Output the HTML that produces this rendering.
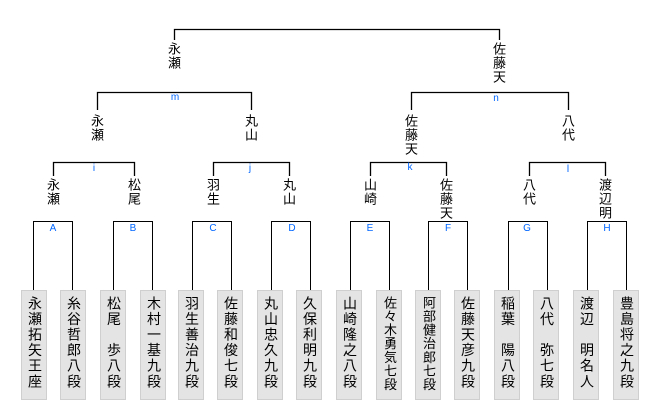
<!DOCTYPE html>
<html><head><meta charset="utf-8"><style>
body{margin:0;width:660px;height:400px;background:#fff;position:relative;overflow:hidden;font-family:"Liberation Sans","Noto Sans CJK JP",sans-serif}
.n{position:absolute;writing-mode:vertical-rl;text-orientation:upright;font-size:13px;letter-spacing:1px;line-height:14px;width:14px;color:#000;font-family:"Noto Sans CJK JP",sans-serif}
.l{position:absolute;font-size:10px;color:#0066ff;width:20px;text-align:center}
.b{position:absolute;top:290px;width:26px;height:110px;background:#e4e4e4;border:1px solid #cfcfcf;box-sizing:border-box}
.b span{position:absolute;left:5px;top:5px;writing-mode:vertical-rl;text-orientation:upright;font-size:14px;letter-spacing:1.6px;line-height:15px;font-family:"Noto Sans CJK JP",sans-serif}
.b span.s{font-size:13px;letter-spacing:0.6px;left:6px}
</style></head><body>
<svg width="660" height="400" style="position:absolute;left:0;top:0" fill="none" stroke="#000" stroke-width="1.3">
<path d="M174.5 40V29.5H499.5V40"/>
<path d="M97.5 110V92.5H251.5V110M411.5 110V92.5H568.5V110"/>
<path d="M53.5 176V162.5H134.5V176M213.5 176V162.5H289.5V176M370.5 176V162.5H446.5V176M529.5 176V162.5H605.5V176"/>
<g stroke-width="1">
<path d="M33.5 290V221.5H72.5V290M113.5 290V221.5H152.5V290M192.5 290V221.5H231.5V290M271.5 290V221.5H310.5V290"/>
<path d="M350.5 290V221.5H389.5V290M428.5 290V221.5H467.5V290M508.5 290V221.5H547.5V290M587.5 290V221.5H626.5V290"/>
</g>
</svg>
<div class="n" style="left:167px;top:42px">永瀬</div>
<div class="n" style="left:492px;top:42px">佐藤天</div>
<div class="n" style="left:90px;top:114px">永瀬</div>
<div class="n" style="left:244px;top:114px">丸山</div>
<div class="n" style="left:404px;top:114px">佐藤天</div>
<div class="n" style="left:561px;top:114px">八代</div>
<div class="n" style="left:46px;top:178px">永瀬</div>
<div class="n" style="left:127px;top:178px">松尾</div>
<div class="n" style="left:206px;top:178px">羽生</div>
<div class="n" style="left:282px;top:178px">丸山</div>
<div class="n" style="left:363px;top:178px">山崎</div>
<div class="n" style="left:439px;top:178px">佐藤天</div>
<div class="n" style="left:522px;top:178px">八代</div>
<div class="n" style="left:598px;top:178px">渡辺明</div>
<div class="l" style="left:165px;top:92px">m</div>
<div class="l" style="left:486px;top:93px">n</div>
<div class="l" style="left:84px;top:163px">i</div>
<div class="l" style="left:240px;top:163px">j</div>
<div class="l" style="left:400px;top:162px">k</div>
<div class="l" style="left:558px;top:164px">l</div>
<div class="l" style="left:43px;top:223px">A</div>
<div class="l" style="left:123px;top:223px">B</div>
<div class="l" style="left:203px;top:223px">C</div>
<div class="l" style="left:282px;top:223px">D</div>
<div class="l" style="left:360px;top:223px">E</div>
<div class="l" style="left:438px;top:223px">F</div>
<div class="l" style="left:517px;top:223px">G</div>
<div class="l" style="left:597px;top:223px">H</div>
<div class="b" style="left:21px"><span>永瀬拓矢王座</span></div>
<div class="b" style="left:60px"><span>糸谷哲郎八段</span></div>
<div class="b" style="left:100px"><span>松尾　歩八段</span></div>
<div class="b" style="left:140px"><span>木村一基九段</span></div>
<div class="b" style="left:178px"><span>羽生善治九段</span></div>
<div class="b" style="left:217px"><span>佐藤和俊七段</span></div>
<div class="b" style="left:257px"><span>丸山忠久九段</span></div>
<div class="b" style="left:296px"><span>久保利明九段</span></div>
<div class="b" style="left:336px"><span>山崎隆之八段</span></div>
<div class="b" style="left:376px"><span class="s">佐々木勇気七段</span></div>
<div class="b" style="left:415px"><span class="s">阿部健治郎七段</span></div>
<div class="b" style="left:454px"><span>佐藤天彦九段</span></div>
<div class="b" style="left:494px"><span>稲葉　陽八段</span></div>
<div class="b" style="left:533px"><span>八代　弥七段</span></div>
<div class="b" style="left:573px"><span>渡辺　明名人</span></div>
<div class="b" style="left:613px"><span>豊島将之九段</span></div>
</body></html>
